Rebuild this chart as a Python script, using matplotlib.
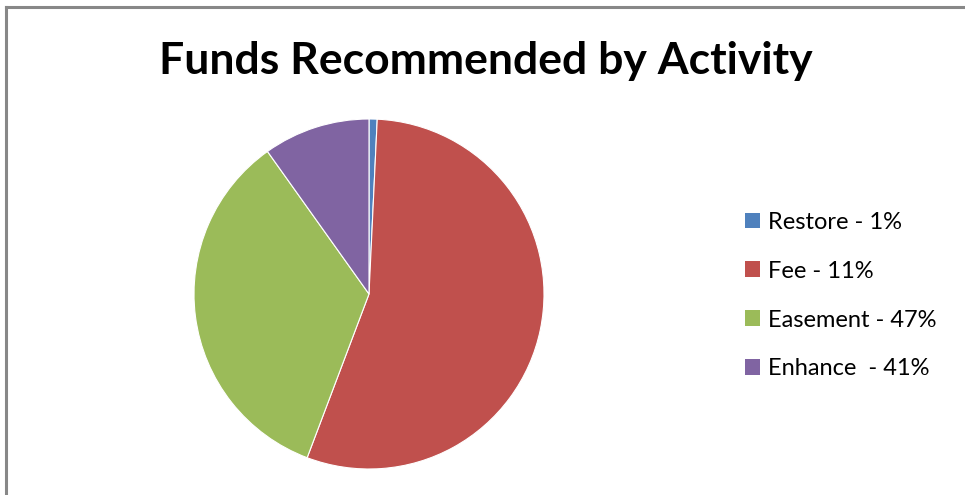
import matplotlib.pyplot as plt
from matplotlib.patches import Patch

# valores
categorias = ['Restore - 1%', 'Fee - 11%', 'Easement - 47%', 'Enhance  - 41%']
valores = [0.75, 55.0, 34.4, 9.85]
cores = ['#4F81BD', '#C0504D', '#9BBB59', '#8064A2']
titulo = 'Funds Recommended by Activity'

plt.rcParams['font.family'] = ['Lato', 'DejaVu Sans']

W, H = 965, 495
fig = plt.figure(figsize=(W / 100, H / 100), dpi=100)

# moldura (so esquerda e topo aparecem)
fig.add_artist(plt.Line2D([6 / W, 6 / W], [0, 1 - 7 / H], color='#888888', lw=2.2))
fig.add_artist(plt.Line2D([6 / W, 1], [1 - 7 / H, 1 - 7 / H], color='#888888', lw=2.2))

cx, cy, r = 369, 294, 175
ax = fig.add_axes([(cx - r) / W, (H - cy - r) / H, 2 * r / W, 2 * r / H])
ax.pie(valores, colors=cores, startangle=90, counterclock=False,
       wedgeprops=dict(edgecolor='white', linewidth=0.8))
ax.set_xlim(-1, 1)
ax.set_ylim(-1, 1)
ax.set_aspect('equal')
ax.axis('off')

fig.text(486 / W, 1 - 61 / H, titulo, ha='center', va='center',
         fontsize=32, fontweight='bold')

handles = [Patch(facecolor=c, edgecolor='none') for c in cores]
fig.legend(handles, categorias, loc='upper left', bbox_to_anchor=(733 / W, 1 - 200 / H),
           frameon=False, fontsize=17, handlelength=0.65, handleheight=0.65,
           handletextpad=0.35, labelspacing=1.18, borderpad=0)

fig.savefig('out.png', dpi=100)
